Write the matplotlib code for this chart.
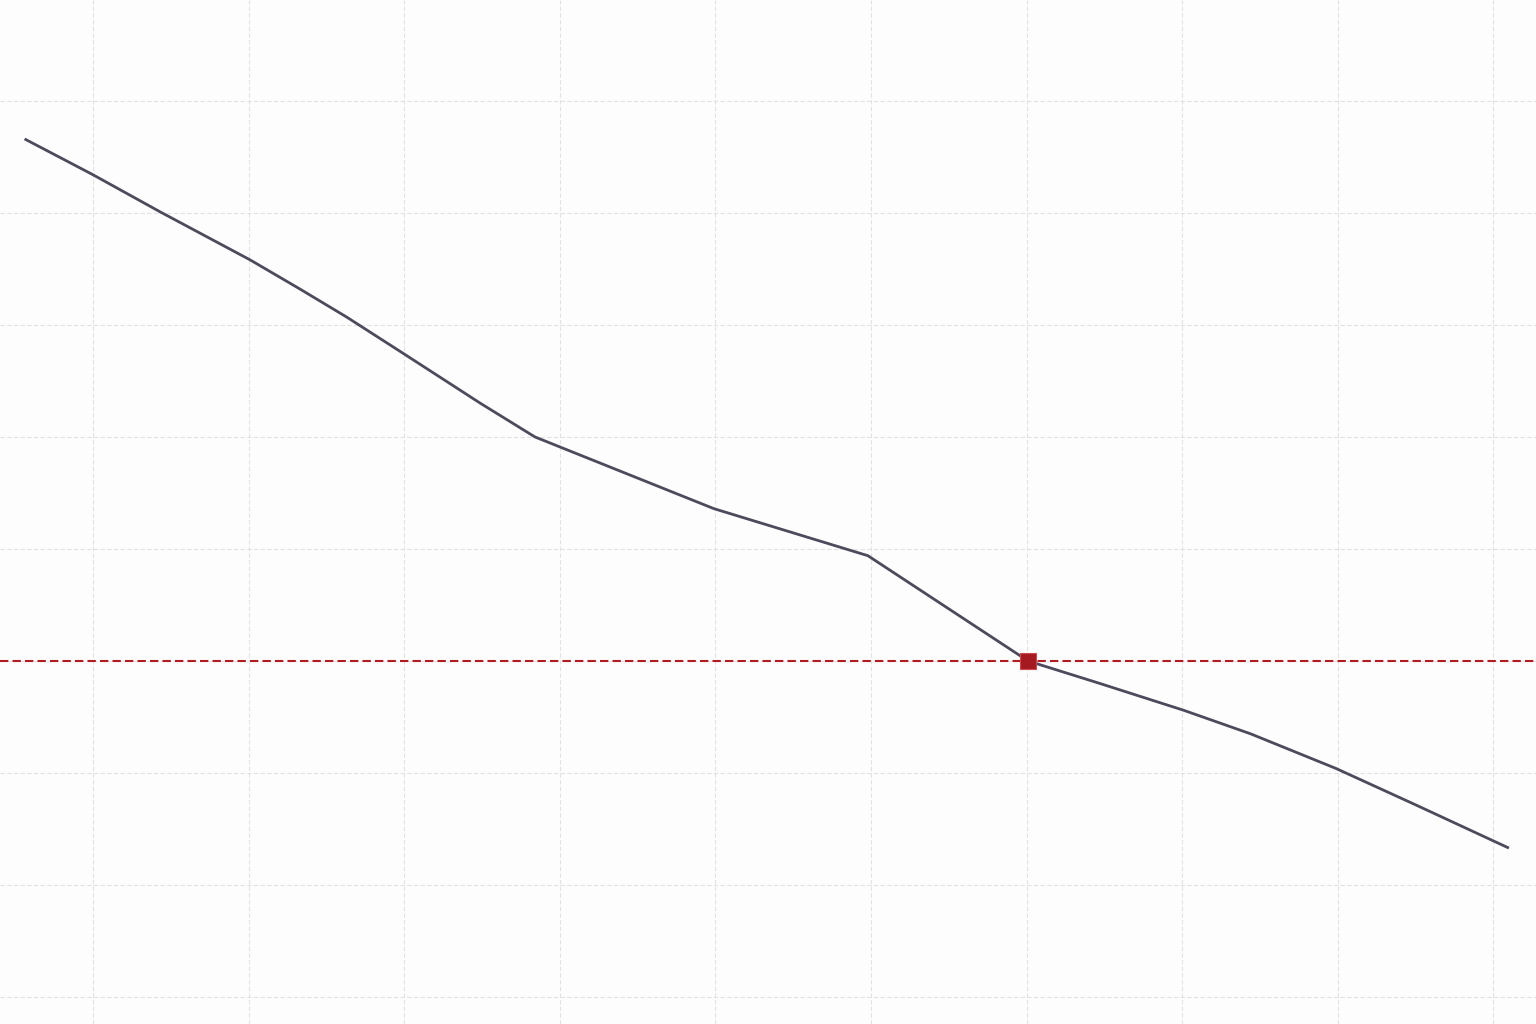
import matplotlib
matplotlib.use('Agg')
import matplotlib.pyplot as plt
import numpy as np

# curve values (x in grid units, y in grid units, 0 = threshold)
x_vals = [-0.44, 0.0, 0.43, 1.01, 1.33, 1.63, 2.0, 2.49, 2.84, 3.99, 4.98,
          6.01, 6.47, 7.01, 7.44, 7.99, 8.51, 9.10]
y_vals = [4.66, 4.34, 4.01, 3.58, 3.32, 3.07, 2.74, 2.30, 2.0, 1.36, 0.94,
          0.0, -0.20, -0.44, -0.65, -0.96, -1.29, -1.67]

threshold = 0.0
cross_x = 6.01

x_ticks = list(range(0, 10))
y_ticks = list(range(-3, 6))

fig = plt.figure(figsize=(15.36, 10.24), dpi=100)
fig.patch.set_facecolor('#fdfdfd')
ax = fig.add_axes([0, 0, 1, 1])
ax.set_facecolor('#fdfdfd')

ax.set_xlim(-0.598, 9.274)
ax.set_ylim(-3.24, 5.90)
ax.set_xticks(x_ticks)
ax.set_yticks(y_ticks)
ax.tick_params(left=False, bottom=False, labelleft=False, labelbottom=False)
for s in ax.spines.values():
    s.set_visible(False)
ax.grid(True, color='#e2e2e2', linestyle=(0, (4, 2)), linewidth=0.8)
ax.set_axisbelow(True)

# main curve
ax.plot(x_vals, y_vals, color='#4b4b5c', linewidth=2.0, solid_capstyle='butt',
        solid_joinstyle='round', zorder=3)

# threshold line and crossing point
ax.axhline(threshold, color='#b01c22', linestyle=(0, (4, 2)), linewidth=1.5, zorder=2)
ax.plot([cross_x], [threshold], marker='s', markersize=11, markerfacecolor='#a51a20',
        markeredgecolor='#cc4a4e', markeredgewidth=0.8, zorder=4)

plt.savefig('out.png', dpi=100, facecolor=fig.get_facecolor())
